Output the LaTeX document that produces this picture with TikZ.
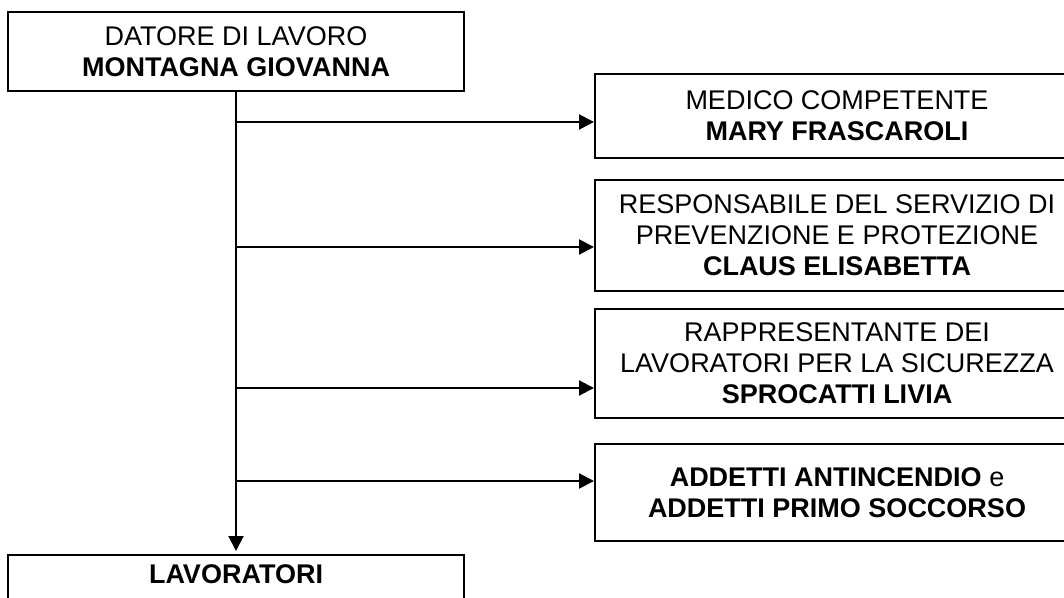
\documentclass[tikz,border=0pt]{standalone}
\usepackage{fontspec}
\setmainfont{Liberation Sans}
\usetikzlibrary{arrows.meta}

\begin{document}
\begin{tikzpicture}[x=0.5pt,y=-0.5pt]
\tikzset{box/.style={draw, line width=1pt, align=center, inner sep=0pt, font=\fontsize{13.5pt}{15.5pt}\selectfont}}
\tikzset{rbox/.style={box, minimum width=242pt}}
\tikzset{link/.style={line width=1pt, -{Triangle[length=7.5pt,width=7.5pt]}}}
\useasboundingbox (0,0) rectangle (1064,598);
\clip (0,0) rectangle (1064,598);
				% datore e lavoratori
				\node[box, minimum width=228pt, minimum height=39.5pt] (datore) at (236,51.5)
					{DATORE DI LAVORO\\\textbf{MONTAGNA GIOVANNA}};
				\node[box, anchor=north, minimum width=228pt, text height=14.15pt, text depth=20pt] (lavoratori) at (236,554)
					{\textbf{LAVORATORI}};
				% figure di sicurezza
				\node[rbox, minimum height=42pt] (medico) at (837,116)
					{MEDICO COMPETENTE\\\textbf{MARY FRASCAROLI}};
				\node[rbox, minimum height=55.5pt] (rspp) at (837,235.5)
					{RESPONSABILE DEL SERVIZIO DI\\PREVENZIONE E PROTEZIONE\\\textbf{CLAUS ELISABETTA}};
				\node[rbox, minimum height=54.5pt] (rls) at (837,363.5)
					{RAPPRESENTANTE DEI\\LAVORATORI PER LA SICUREZZA\\\textbf{SPROCATTI LIVIA}};
				\node[rbox, minimum height=48.5pt] (addetti) at (837,492.5)
					{\textbf{ADDETTI ANTINCENDIO} e\\\textbf{ADDETTI PRIMO SOCCORSO}};
				% collegamenti
				\coordinate (b1) at (236,122);
				\coordinate (b2) at (236,247);
				\coordinate (b3) at (236,388);
				\coordinate (b4) at (236,481);
				\draw[link, shorten >=1.5pt] (datore.south) -- (lavoratori.north);
				\draw[link] (b1) -- (b1 -| medico.west);
				\draw[link] (b2) -- (b2 -| rspp.west);
				\draw[link] (b3) -- (b3 -| rls.west);
				\draw[link] (b4) -- (b4 -| addetti.west);
\end{tikzpicture}
\end{document}
